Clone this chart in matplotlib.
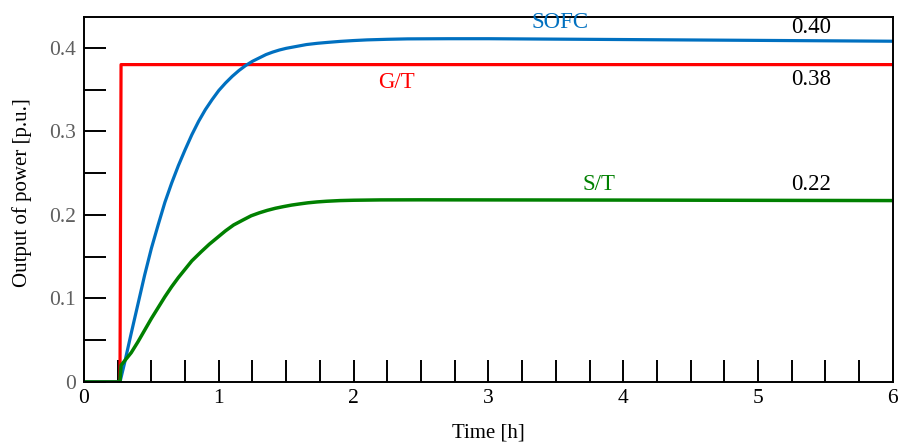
import matplotlib
matplotlib.use("Agg")
import matplotlib.pyplot as plt
from matplotlib.ticker import MultipleLocator

plt.rcParams["font.family"] = ["Liberation Serif", "DejaVu Serif"]

# time axis [h] and power outputs [p.u.]
t_gt = [0.0, 0.267, 0.275, 6.0]
p_gt = [0.0, 0.0, 0.38, 0.38]

t_sofc = [0.0, 0.267, 0.30, 0.35, 0.40, 0.45, 0.50, 0.55, 0.60, 0.65, 0.70,
          0.75, 0.80, 0.85, 0.90, 0.95, 1.00, 1.05, 1.10, 1.15, 1.20, 1.25,
          1.30, 1.35, 1.40, 1.45, 1.50, 1.55, 1.60, 1.65, 1.73, 1.80, 1.90,
          2.00, 2.10, 2.25, 2.40, 2.70, 3.00, 3.50, 4.00, 4.50, 5.00, 5.50,
          6.00]
p_sofc = [0.0, 0.0, 0.022, 0.058, 0.093, 0.128, 0.160, 0.188, 0.215, 0.238,
          0.259, 0.278, 0.296, 0.312, 0.326, 0.338, 0.349, 0.358, 0.366,
          0.373, 0.379, 0.384, 0.388, 0.392, 0.395, 0.3975, 0.3995, 0.401,
          0.4025, 0.404, 0.4055, 0.4065, 0.4078, 0.4088, 0.4096, 0.4103,
          0.4108, 0.411, 0.411, 0.4105, 0.410, 0.4095, 0.409, 0.4085, 0.408]

t_st = [0.0, 0.267, 0.275, 0.30, 0.35, 0.40, 0.45, 0.50, 0.55, 0.60, 0.65,
        0.70, 0.75, 0.80, 0.87, 0.93, 0.99, 1.05, 1.11, 1.18, 1.24, 1.30,
        1.36, 1.42, 1.48, 1.54, 1.60, 1.66, 1.73, 1.80, 1.90, 2.00, 2.20,
        2.50, 3.00, 4.00, 5.00, 6.00]
p_st = [0.0, 0.0, 0.020, 0.025, 0.035, 0.048, 0.062, 0.076, 0.089, 0.102,
        0.114, 0.125, 0.135, 0.145, 0.156, 0.165, 0.173, 0.181, 0.188, 0.194,
        0.199, 0.2025, 0.2055, 0.208, 0.210, 0.2118, 0.2132, 0.2145, 0.2156,
        0.2164, 0.2172, 0.2176, 0.218, 0.2181, 0.218, 0.2178, 0.2175, 0.2172]

C_GT = "#ff0000"
C_SOFC = "#0070c0"
C_ST = "#008000"

fig = plt.figure(figsize=(9.01, 4.45), dpi=100)
ax = fig.add_axes([0.0932, 0.1416, 0.8978, 0.8202])

ax.plot(t_gt, p_gt, color=C_GT, lw=2.3)
ax.plot(t_sofc, p_sofc, color=C_SOFC, lw=2.3, solid_joinstyle="round")
ax.plot(t_st, p_st, color=C_ST, lw=2.5, solid_joinstyle="round")

ax.set_xlim(0, 6)
ax.set_ylim(0, 0.437)

ax.xaxis.set_major_locator(MultipleLocator(1))
ax.xaxis.set_minor_locator(MultipleLocator(0.25))
ax.yaxis.set_major_locator(MultipleLocator(0.1))
ax.yaxis.set_minor_locator(MultipleLocator(0.05))
ax.set_yticks([0, 0.1, 0.2, 0.3, 0.4])
ax.set_yticklabels(["0", "0.1", "0.2", "0.3", "0.4"])

ax.tick_params(axis="both", which="both", direction="in", length=15.5,
               width=1.4, top=False, right=False)
ax.tick_params(axis="x", labelsize=15.5, pad=5, labelcolor="black")
ax.tick_params(axis="y", labelsize=15.5, pad=6, labelcolor="#5f5f5f")

for s in ax.spines.values():
    s.set_linewidth(1.4)

ax.set_xlabel("Time [h]", fontsize=15, labelpad=11)
ax.set_ylabel("Output of power [p.u.]", fontsize=15)
ax.yaxis.set_label_coords(-0.064, 0.52)

# curve names and steady-state values
ax.text(3.53, 0.4305, "SOFC", color=C_SOFC, fontsize=16.5, ha="center", va="center")
ax.text(2.32, 0.358, "G/T", color=C_GT, fontsize=16.5, ha="center", va="center")
ax.text(3.82, 0.236, "S/T", color=C_ST, fontsize=16.5, ha="center", va="center")
ax.text(5.39, 0.4245, "0.40", fontsize=16.5, ha="center", va="center")
ax.text(5.39, 0.3625, "0.38", fontsize=16.5, ha="center", va="center")
ax.text(5.39, 0.237, "0.22", fontsize=16.5, ha="center", va="center")

fig.savefig("out.png", dpi=100)
